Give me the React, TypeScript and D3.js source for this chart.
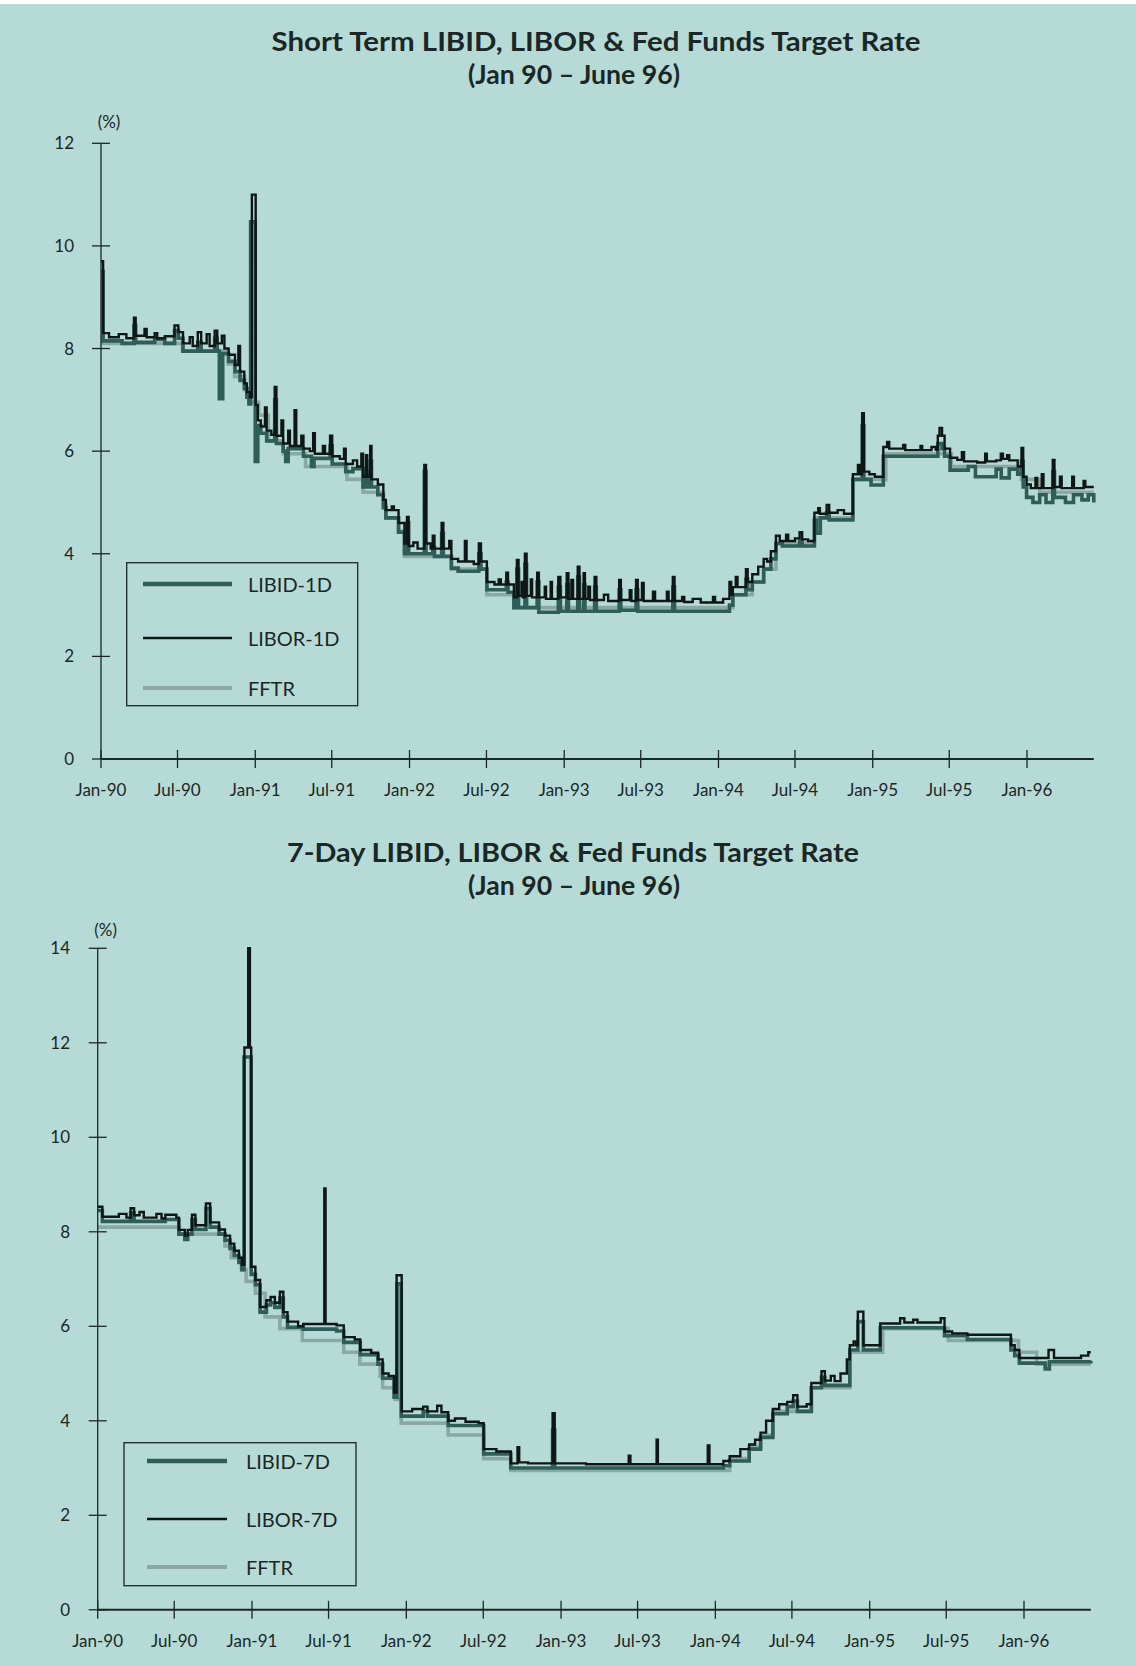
import React from 'react';
import * as d3 from 'd3';

type Pt = [string, number];

// Fed funds target rate (step series, same in both panels)
const FFTR: Pt[] = [
  ['1990-01-01', 8.1], ['1990-07-13', 7.95], ['1990-10-29', 7.7], ['1990-11-13', 7.45],
  ['1990-12-07', 7.2], ['1990-12-18', 6.95], ['1991-01-09', 6.7], ['1991-02-01', 6.2],
  ['1991-03-08', 5.95], ['1991-04-30', 5.7], ['1991-08-06', 5.45], ['1991-09-13', 5.2],
  ['1991-10-31', 4.95], ['1991-11-06', 4.7], ['1991-12-06', 4.45], ['1991-12-20', 3.95],
  ['1992-04-09', 3.7], ['1992-07-02', 3.2], ['1992-09-04', 2.95], ['1994-02-04', 3.2],
  ['1994-03-22', 3.45], ['1994-04-18', 3.7], ['1994-05-17', 4.2], ['1994-08-16', 4.7],
  ['1994-11-15', 5.45], ['1995-02-01', 5.95], ['1995-07-06', 5.7], ['1995-12-19', 5.45],
  ['1996-01-31', 5.2], ['1996-06-07', 5.2],
];

const LIBOR_1D: Pt[] = [
  ['1990-01-01', 9.7], ['1990-01-06', 8.3], ['1990-01-20', 8.22], ['1990-02-12', 8.28],
  ['1990-03-02', 8.2], ['1990-03-20', 8.6], ['1990-03-24', 8.25], ['1990-04-14', 8.38],
  ['1990-04-19', 8.22], ['1990-05-08', 8.3], ['1990-05-14', 8.2], ['1990-06-01', 8.24],
  ['1990-06-24', 8.45], ['1990-07-03', 8.32], ['1990-07-14', 8.1], ['1990-07-30', 8.22],
  ['1990-08-06', 8.05], ['1990-08-18', 8.32], ['1990-08-26', 8.1], ['1990-09-08', 8.28],
  ['1990-09-15', 8.05], ['1990-09-27', 8.35], ['1990-10-03', 8.1], ['1990-10-14', 8.25],
  ['1990-10-20', 8.0], ['1990-10-30', 7.88], ['1990-11-14', 7.68], ['1990-11-22', 8.05],
  ['1990-11-26', 7.55], ['1990-12-06', 7.32], ['1990-12-12', 7.15], ['1990-12-19', 7.05],
  ['1990-12-24', 11.0], ['1991-01-02', 6.9], ['1991-01-07', 6.6], ['1991-01-14', 6.48],
  ['1991-01-24', 6.85], ['1991-01-28', 6.4], ['1991-02-08', 6.32], ['1991-02-16', 7.25],
  ['1991-02-20', 6.3], ['1991-03-04', 6.6], ['1991-03-08', 6.15], ['1991-03-20', 6.4],
  ['1991-03-24', 6.1], ['1991-04-04', 6.8], ['1991-04-08', 6.1], ['1991-04-20', 6.3],
  ['1991-04-25', 6.05], ['1991-05-10', 6.0], ['1991-05-18', 6.35], ['1991-05-22', 5.95],
  ['1991-06-10', 6.1], ['1991-06-15', 5.95], ['1991-06-27', 6.3], ['1991-07-02', 5.9],
  ['1991-07-20', 5.85], ['1991-07-30', 6.05], ['1991-08-03', 5.75], ['1991-08-20', 5.82],
  ['1991-08-30', 5.7], ['1991-09-09', 5.95], ['1991-09-13', 5.5], ['1991-09-20', 5.92],
  ['1991-09-23', 5.5], ['1991-09-30', 6.1], ['1991-10-03', 5.45], ['1991-10-18', 5.35],
  ['1991-10-31', 5.05], ['1991-11-06', 4.85], ['1991-11-20', 4.92], ['1991-11-25', 4.85],
  ['1991-12-06', 4.6], ['1991-12-20', 4.2], ['1991-12-26', 4.72], ['1991-12-30', 4.15],
  ['1992-01-10', 4.22], ['1992-01-20', 4.1], ['1992-02-05', 5.73], ['1992-02-09', 4.2],
  ['1992-02-20', 4.1], ['1992-02-25', 4.35], ['1992-02-29', 4.1], ['1992-03-17', 4.6],
  ['1992-03-21', 4.1], ['1992-04-04', 4.25], ['1992-04-09', 3.9], ['1992-04-25', 3.85],
  ['1992-05-11', 4.25], ['1992-05-15', 3.85], ['1992-06-01', 3.8], ['1992-06-13', 4.2],
  ['1992-06-18', 3.85], ['1992-07-02', 3.45], ['1992-07-20', 3.4], ['1992-07-30', 3.5],
  ['1992-08-04', 3.4], ['1992-08-17', 3.63], ['1992-08-21', 3.4], ['1992-09-04', 3.15],
  ['1992-09-11', 3.88], ['1992-09-15', 3.18], ['1992-09-22', 3.45], ['1992-09-25', 3.15],
  ['1992-09-30', 4.0], ['1992-10-04', 3.18], ['1992-10-14', 3.5], ['1992-10-17', 3.15],
  ['1992-10-29', 3.63], ['1992-11-02', 3.15], ['1992-11-16', 3.36], ['1992-11-19', 3.12],
  ['1992-11-30', 3.45], ['1992-12-03', 3.12], ['1992-12-18', 3.55], ['1992-12-23', 3.15],
  ['1993-01-07', 3.62], ['1993-01-11', 3.12], ['1993-01-18', 3.49], ['1993-01-22', 3.12],
  ['1993-02-02', 3.75], ['1993-02-06', 3.12], ['1993-02-16', 3.62], ['1993-02-19', 3.12],
  ['1993-02-27', 3.36], ['1993-03-03', 3.1], ['1993-03-14', 3.55], ['1993-03-18', 3.1],
  ['1993-04-05', 3.2], ['1993-04-15', 3.08], ['1993-05-11', 3.49], ['1993-05-15', 3.1],
  ['1993-06-05', 3.29], ['1993-06-09', 3.08], ['1993-06-20', 3.49], ['1993-06-24', 3.1],
  ['1993-07-04', 3.43], ['1993-07-08', 3.08], ['1993-07-30', 3.26], ['1993-08-04', 3.08],
  ['1993-09-01', 3.26], ['1993-09-05', 3.08], ['1993-09-15', 3.55], ['1993-09-19', 3.08],
  ['1993-10-07', 3.16], ['1993-10-12', 3.06], ['1993-11-01', 3.12], ['1993-11-20', 3.05],
  ['1993-12-19', 3.16], ['1993-12-24', 3.05], ['1994-01-12', 3.12], ['1994-01-27', 3.45],
  ['1994-01-31', 3.2], ['1994-02-04', 3.35], ['1994-02-11', 3.55], ['1994-02-15', 3.35],
  ['1994-03-07', 3.7], ['1994-03-11', 3.45], ['1994-03-22', 3.6], ['1994-04-05', 3.75],
  ['1994-04-18', 3.9], ['1994-04-26', 3.85], ['1994-05-05', 4.05], ['1994-05-17', 4.35],
  ['1994-05-26', 4.25], ['1994-06-10', 4.37], ['1994-06-15', 4.25], ['1994-07-01', 4.3],
  ['1994-07-12', 4.42], ['1994-07-18', 4.28], ['1994-08-01', 4.25], ['1994-08-16', 4.8],
  ['1994-08-25', 4.89], ['1994-08-29', 4.78], ['1994-09-14', 4.95], ['1994-09-20', 4.8],
  ['1994-10-10', 4.85], ['1994-10-25', 4.78], ['1994-11-15', 5.55], ['1994-11-27', 5.73],
  ['1994-12-02', 5.55], ['1994-12-07', 6.74], ['1994-12-11', 5.6], ['1994-12-24', 5.55],
  ['1995-01-06', 5.5], ['1995-01-26', 6.08], ['1995-02-04', 6.18], ['1995-02-09', 6.05],
  ['1995-03-14', 6.12], ['1995-03-19', 6.02], ['1995-04-24', 6.1], ['1995-04-28', 6.02],
  ['1995-05-20', 6.08], ['1995-05-30', 6.03], ['1995-06-04', 6.3], ['1995-06-08', 6.45],
  ['1995-06-14', 6.3], ['1995-06-20', 6.05], ['1995-07-03', 5.87], ['1995-07-20', 5.83],
  ['1995-07-31', 5.98], ['1995-08-05', 5.8], ['1995-09-05', 5.78], ['1995-09-24', 5.95],
  ['1995-09-28', 5.8], ['1995-10-20', 5.82], ['1995-10-31', 5.95], ['1995-11-05', 5.85],
  ['1995-11-15', 5.92], ['1995-11-20', 5.82], ['1995-12-10', 5.7], ['1995-12-19', 6.06],
  ['1995-12-23', 5.5], ['1995-12-31', 5.35], ['1996-01-10', 5.28], ['1996-01-21', 5.48],
  ['1996-01-25', 5.28], ['1996-02-05', 5.55], ['1996-02-09', 5.28], ['1996-03-02', 5.83],
  ['1996-03-06', 5.3], ['1996-03-19', 5.5], ['1996-03-23', 5.28], ['1996-04-17', 5.5],
  ['1996-04-21', 5.28], ['1996-05-14', 5.42], ['1996-05-18', 5.3], ['1996-06-07', 5.3],
];

const LIBID_1D: Pt[] = [
  ['1990-01-01', 9.5], ['1990-01-06', 8.15], ['1990-02-20', 8.1], ['1990-03-20', 8.45],
  ['1990-03-24', 8.12], ['1990-05-08', 8.18], ['1990-06-01', 8.1], ['1990-06-24', 8.35],
  ['1990-07-03', 8.2], ['1990-07-14', 7.95], ['1990-08-18', 8.12], ['1990-08-26', 7.95],
  ['1990-09-27', 8.2], ['1990-10-03', 7.95], ['1990-10-08', 7.02], ['1990-10-16', 7.9],
  ['1990-10-30', 7.75], ['1990-11-14', 7.55], ['1990-11-26', 7.38], ['1990-12-06', 7.22],
  ['1990-12-12', 7.05], ['1990-12-17', 6.92], ['1990-12-21', 10.47], ['1991-01-01', 5.8],
  ['1991-01-07', 6.5], ['1991-01-14', 6.35], ['1991-01-28', 6.2], ['1991-02-16', 7.0],
  ['1991-02-20', 6.15], ['1991-03-08', 6.0], ['1991-03-14', 5.8], ['1991-03-20', 6.05],
  ['1991-04-25', 5.9], ['1991-05-14', 5.7], ['1991-05-20', 5.86], ['1991-06-27', 6.1],
  ['1991-07-02', 5.75], ['1991-08-03', 5.6], ['1991-08-20', 5.66], ['1991-09-13', 5.3],
  ['1991-09-20', 5.6], ['1991-09-23', 5.3], ['1991-09-30', 5.8], ['1991-10-03', 5.3],
  ['1991-10-18', 5.15], ['1991-10-31', 4.9], ['1991-11-06', 4.7], ['1991-12-06', 4.42],
  ['1991-12-20', 4.0], ['1991-12-26', 4.6], ['1991-12-30', 4.0], ['1992-02-05', 5.6],
  ['1992-02-09', 4.0], ['1992-02-25', 4.12], ['1992-02-29', 3.95], ['1992-03-17', 4.4],
  ['1992-03-21', 3.95], ['1992-04-09', 3.72], ['1992-04-25', 3.66], ['1992-06-13', 4.0],
  ['1992-06-18', 3.7], ['1992-07-02', 3.3], ['1992-08-17', 3.45], ['1992-08-21', 3.25],
  ['1992-09-04', 2.95], ['1992-09-11', 3.7], ['1992-09-15', 2.95], ['1992-09-30', 3.8],
  ['1992-10-04', 2.95], ['1992-10-29', 3.45], ['1992-11-02', 2.86], ['1992-12-18', 3.35],
  ['1992-12-23', 2.88], ['1993-01-07', 3.4], ['1993-01-11', 2.88], ['1993-02-02', 3.55],
  ['1993-02-06', 2.88], ['1993-02-16', 3.4], ['1993-02-19', 2.88], ['1993-03-14', 3.35],
  ['1993-03-18', 2.88], ['1993-05-11', 3.3], ['1993-05-15', 2.9], ['1993-06-20', 3.3],
  ['1993-06-24', 2.88], ['1993-09-15', 3.35], ['1993-09-19', 2.88], ['1994-01-27', 3.0],
  ['1994-02-04', 3.2], ['1994-03-07', 3.5], ['1994-03-11', 3.3], ['1994-03-22', 3.45],
  ['1994-04-18', 3.7], ['1994-05-05', 3.9], ['1994-05-17', 4.2], ['1994-06-01', 4.15],
  ['1994-07-12', 4.25], ['1994-07-18', 4.15], ['1994-08-16', 4.65], ['1994-08-21', 4.4],
  ['1994-08-30', 4.7], ['1994-09-14', 4.8], ['1994-09-20', 4.66], ['1994-11-15', 5.45],
  ['1994-12-07', 6.5], ['1994-12-11', 5.45], ['1994-12-28', 5.34], ['1995-01-26', 5.9],
  ['1995-06-04', 6.15], ['1995-06-14', 6.05], ['1995-06-20', 5.9], ['1995-07-03', 5.63],
  ['1995-08-15', 5.7], ['1995-09-01', 5.5], ['1995-10-20', 5.65], ['1995-11-01', 5.48],
  ['1995-11-20', 5.65], ['1995-12-10', 5.55], ['1995-12-19', 5.8], ['1995-12-23', 5.3],
  ['1995-12-31', 5.1], ['1996-01-15', 5.0], ['1996-01-31', 5.15], ['1996-02-15', 5.0],
  ['1996-03-02', 5.6], ['1996-03-06', 5.1], ['1996-04-01', 5.0], ['1996-04-20', 5.15],
  ['1996-05-10', 5.05], ['1996-05-25', 5.15], ['1996-06-07', 5.0],
];

const LIBOR_7D: Pt[] = [
  ['1990-01-01', 8.53], ['1990-01-12', 8.32], ['1990-02-20', 8.38], ['1990-03-10', 8.3],
  ['1990-03-20', 8.5], ['1990-03-28', 8.35], ['1990-04-10', 8.42], ['1990-04-20', 8.3],
  ['1990-05-20', 8.38], ['1990-06-01', 8.28], ['1990-06-10', 8.36], ['1990-07-06', 8.3],
  ['1990-07-12', 8.04], ['1990-07-26', 7.92], ['1990-08-02', 8.04], ['1990-08-12', 8.36],
  ['1990-08-20', 8.14], ['1990-09-14', 8.6], ['1990-09-24', 8.2], ['1990-10-15', 8.05],
  ['1990-10-29', 7.92], ['1990-11-10', 7.75], ['1990-11-20', 7.6], ['1990-12-01', 7.45],
  ['1990-12-08', 7.3], ['1990-12-14', 11.9], ['1990-12-23', 14.0], ['1990-12-27', 11.9],
  ['1990-12-30', 7.26], ['1991-01-09', 6.98], ['1991-01-20', 6.41], ['1991-02-04', 6.55],
  ['1991-02-14', 6.62], ['1991-02-24', 6.5], ['1991-03-08', 6.73], ['1991-03-16', 6.3],
  ['1991-03-26', 6.1], ['1991-04-20', 6.0], ['1991-05-02', 6.05], ['1991-06-21', 8.92],
  ['1991-06-24', 6.05], ['1991-07-20', 6.02], ['1991-08-06', 5.77], ['1991-09-01', 5.72],
  ['1991-09-14', 5.5], ['1991-10-10', 5.44], ['1991-10-26', 5.3], ['1991-11-06', 5.0],
  ['1991-11-20', 4.95], ['1991-12-03', 4.6], ['1991-12-09', 7.08], ['1991-12-21', 4.2],
  ['1992-01-15', 4.25], ['1992-02-10', 4.3], ['1992-02-20', 4.2], ['1992-03-14', 4.32],
  ['1992-03-24', 4.18], ['1992-04-09', 4.0], ['1992-04-25', 4.05], ['1992-05-20', 3.98],
  ['1992-06-20', 3.95], ['1992-07-02', 3.4], ['1992-08-01', 3.35], ['1992-09-04', 3.1],
  ['1992-09-20', 3.44], ['1992-09-24', 3.12], ['1992-10-15', 3.1], ['1992-12-12', 4.16],
  ['1992-12-17', 3.1], ['1993-03-01', 3.08], ['1993-06-10', 3.26], ['1993-06-14', 3.08],
  ['1993-08-15', 3.6], ['1993-08-18', 3.08], ['1993-12-14', 3.48], ['1993-12-18', 3.08],
  ['1994-01-20', 3.15], ['1994-02-04', 3.25], ['1994-03-01', 3.4], ['1994-03-22', 3.5],
  ['1994-04-05', 3.6], ['1994-04-18', 3.75], ['1994-05-01', 4.0], ['1994-05-17', 4.25],
  ['1994-06-01', 4.35], ['1994-06-20', 4.4], ['1994-07-04', 4.54], ['1994-07-14', 4.3],
  ['1994-08-05', 4.35], ['1994-08-16', 4.8], ['1994-09-09', 5.05], ['1994-09-17', 4.85],
  ['1994-10-01', 4.95], ['1994-10-10', 4.84], ['1994-10-24', 5.0], ['1994-11-08', 5.3],
  ['1994-11-15', 5.6], ['1994-11-24', 5.68], ['1994-11-30', 5.6], ['1994-12-04', 6.31],
  ['1994-12-17', 5.6], ['1995-01-26', 6.06], ['1995-03-14', 6.17], ['1995-03-24', 6.08],
  ['1995-04-14', 6.14], ['1995-04-24', 6.08], ['1995-06-18', 6.17], ['1995-06-27', 5.89],
  ['1995-07-15', 5.85], ['1995-08-20', 5.82], ['1995-12-01', 5.6], ['1995-12-10', 5.5],
  ['1995-12-21', 5.33], ['1996-02-28', 5.5], ['1996-03-12', 5.33], ['1996-05-15', 5.38],
  ['1996-06-01', 5.45], ['1996-06-07', 5.45],
];

const LIBID_7D: Pt[] = [
  ['1990-01-01', 8.45], ['1990-01-12', 8.22], ['1990-03-20', 8.4], ['1990-03-28', 8.22],
  ['1990-06-10', 8.26], ['1990-07-12', 7.95], ['1990-07-26', 7.84], ['1990-08-02', 7.95],
  ['1990-08-12', 8.26], ['1990-08-20', 8.05], ['1990-09-14', 8.5], ['1990-09-24', 8.1],
  ['1990-10-15', 7.95], ['1990-10-29', 7.82], ['1990-11-10', 7.65], ['1990-11-20', 7.5],
  ['1990-12-01', 7.35], ['1990-12-08', 7.2], ['1990-12-13', 11.7], ['1990-12-30', 7.1],
  ['1991-01-09', 6.88], ['1991-01-20', 6.3], ['1991-02-04', 6.45], ['1991-02-14', 6.5],
  ['1991-02-24', 6.4], ['1991-03-08', 6.6], ['1991-03-16', 6.2], ['1991-03-26', 5.98],
  ['1991-05-02', 5.94], ['1991-07-20', 5.9], ['1991-08-06', 5.66], ['1991-09-14', 5.4],
  ['1991-10-26', 5.2], ['1991-11-06', 4.9], ['1991-12-03', 4.5], ['1991-12-10', 6.9],
  ['1991-12-20', 4.1], ['1992-02-10', 4.2], ['1992-02-20', 4.1], ['1992-04-09', 3.9],
  ['1992-07-02', 3.3], ['1992-09-04', 3.0], ['1992-12-12', 3.8], ['1992-12-17', 3.0],
  ['1994-01-20', 3.05], ['1994-02-04', 3.15], ['1994-03-22', 3.4], ['1994-04-18', 3.65],
  ['1994-05-17', 4.15], ['1994-06-20', 4.3], ['1994-07-04', 4.42], ['1994-07-14', 4.2],
  ['1994-08-16', 4.7], ['1994-09-09', 4.92], ['1994-09-17', 4.75], ['1994-11-15', 5.5],
  ['1994-12-04', 6.1], ['1994-12-17', 5.5], ['1995-01-26', 5.97], ['1995-06-27', 5.8],
  ['1995-08-20', 5.72], ['1995-12-01', 5.5], ['1995-12-10', 5.38], ['1995-12-21', 5.22],
  ['1996-02-20', 5.1], ['1996-03-01', 5.25], ['1996-06-07', 5.27],
];

const START = '1990-01-01';
const END = '1996-06-07';
const LEGEND_1D = ['LIBID-1D', 'LIBOR-1D', 'FFTR'];
const LEGEND_7D = ['LIBID-7D', 'LIBOR-7D', 'FFTR'];

const parse = d3.timeParse('%Y-%m-%d');
const fmt = d3.timeFormat('%b-%y');

const BG = '#b6dbd6';
const INK = '#1b2726';
const FONT = 'Lato, "Open Sans", sans-serif';
const STYLES = [
  { color: '#2f5d57', width: 3.6, legendWidth: 4.5 }, // LIBID
  { color: '#0f1716', width: 2.4, legendWidth: 2.5 }, // LIBOR
  { color: '#8aa9a5', width: 3.6, legendWidth: 4 }, // FFTR
];

interface PanelCfg {
  title: string;
  titleX: number;
  titleW: number;
  titleY: number;
  subY: number;
  axisX: number;
  jan96X: number;
  y0: number;
  yTopPx: number;
  yMax: number;
  labelRight: number;
  pctY: number;
  legend: { x0: number; y0: number; x1: number; y1: number; lx0: number; lx1: number; rows: number[]; tx: number };
  names: string[];
  libid: Pt[];
  libor: Pt[];
}

function Panel({ c }: { c: PanelCfg }) {
  const x = d3.scaleTime().domain([parse(START)!, parse('1996-01-01')!]).range([c.axisX, c.jan96X]);
  const y = d3.scaleLinear().domain([0, c.yMax]).range([c.y0, c.yTopPx]);
  const line = d3
    .line<Pt>()
    .x(d => x(parse(d[0])!))
    .y(d => y(d[1]))
    .curve(d3.curveStepAfter);
  const xTicks = d3.timeMonth.range(parse(START)!, parse('1996-02-01')!, 6);
  const yTicks = d3.range(0, c.yMax + 1, 2);
  const endX = x(parse(END)!);
  const series = [c.libid, c.libor, FFTR];
  const L = c.legend;

  return (
    <g>
      <text x={c.titleX} y={c.titleY} textAnchor="middle" fontFamily={FONT} fontWeight={700} fontSize={26}
        fill={INK} textLength={c.titleW} lengthAdjust="spacingAndGlyphs">{c.title}</text>
      <text x={574} y={c.subY} textAnchor="middle" fontFamily={FONT} fontWeight={700} fontSize={26}
        fill={INK} textLength={212} lengthAdjust="spacingAndGlyphs">(Jan 90 – June 96)</text>

      {/* lines: FFTR under, LIBID, LIBOR on top */}
      {[2, 0, 1].map(i => (
        <path key={i} d={line(series[i]) || ''} fill="none" stroke={STYLES[i].color}
          strokeWidth={STYLES[i].width} strokeLinejoin="miter" strokeMiterlimit={2} />
      ))}

      {/* y axis */}
      <line x1={c.axisX} x2={c.axisX} y1={y(c.yMax)} y2={y(0)} stroke={INK} strokeWidth={1.3} />
      {yTicks.map(t => (
        <g key={t}>
          <line x1={c.axisX - 9} x2={c.axisX + 9} y1={y(t)} y2={y(t)} stroke={INK} strokeWidth={1.3} />
          <text x={c.labelRight} y={y(t) + 6} textAnchor="end" fontFamily={FONT} fontSize={17} fill={INK}>{t}</text>
        </g>
      ))}
      <text x={c.axisX + 8} y={c.pctY} textAnchor="middle" fontFamily={FONT} fontSize={17} fill={INK}>(%)</text>

      {/* x axis */}
      <line x1={c.axisX} x2={endX} y1={y(0)} y2={y(0)} stroke={INK} strokeWidth={2} />
      {xTicks.map((d, i) => (
        <g key={i}>
          <line x1={x(d)} x2={x(d)} y1={y(0) - 9} y2={y(0) + 9} stroke={INK} strokeWidth={1.3} />
          <text x={x(d)} y={y(0) + 37} textAnchor="middle" fontFamily={FONT} fontSize={17} fill={INK}>{fmt(d)}</text>
        </g>
      ))}

      {/* legend */}
      <rect x={L.x0} y={L.y0} width={L.x1 - L.x0} height={L.y1 - L.y0} fill="none" stroke={INK} strokeWidth={1.3} />
      {c.names.map((n, i) => (
        <g key={n}>
          <line x1={L.lx0} x2={L.lx1} y1={L.rows[i]} y2={L.rows[i]} stroke={STYLES[i].color} strokeWidth={STYLES[i].legendWidth} />
          <text x={L.tx} y={L.rows[i] + 8} fontFamily={FONT} fontSize={20} fill={INK}>{n}</text>
        </g>
      ))}
    </g>
  );
}

const TOP: PanelCfg = {
  title: 'Short Term LIBID, LIBOR & Fed Funds Target Rate',
  titleX: 596, titleW: 649, titleY: 51, subY: 84,
  axisX: 101, jan96X: 1027, y0: 759, yTopPx: 143.3, yMax: 12,
  labelRight: 74, pctY: 128,
  legend: { x0: 126.7, y0: 562.7, x1: 357.7, y1: 705.7, lx0: 143, lx1: 232, rows: [584, 638, 688], tx: 248 },
  names: LEGEND_1D, libid: LIBID_1D, libor: LIBOR_1D,
};

const BOTTOM: PanelCfg = {
  title: '7-Day LIBID, LIBOR & Fed Funds Target Rate',
  titleX: 573, titleW: 572, titleY: 862, subY: 895,
  axisX: 97.7, jan96X: 1024, y0: 1609.8, yTopPx: 948.3, yMax: 14,
  labelRight: 70, pctY: 936,
  legend: { x0: 124, y0: 1442.7, x1: 356, y1: 1585.7, lx0: 147, lx1: 227, rows: [1461, 1519, 1567], tx: 246 },
  names: LEGEND_7D, libid: LIBID_7D, libor: LIBOR_7D,
};

export default function App() {
  return (
    <svg width={1136} height={1666} style={{ position: 'absolute', left: 0, top: 0, display: 'block' }}>
      <rect x={0} y={0} width={1136} height={1666} fill={BG} />
      <rect x={0} y={0} width={1136} height={4} fill="#ffffff" />
      <Panel c={TOP} />
      <Panel c={BOTTOM} />
    </svg>
  );
}
